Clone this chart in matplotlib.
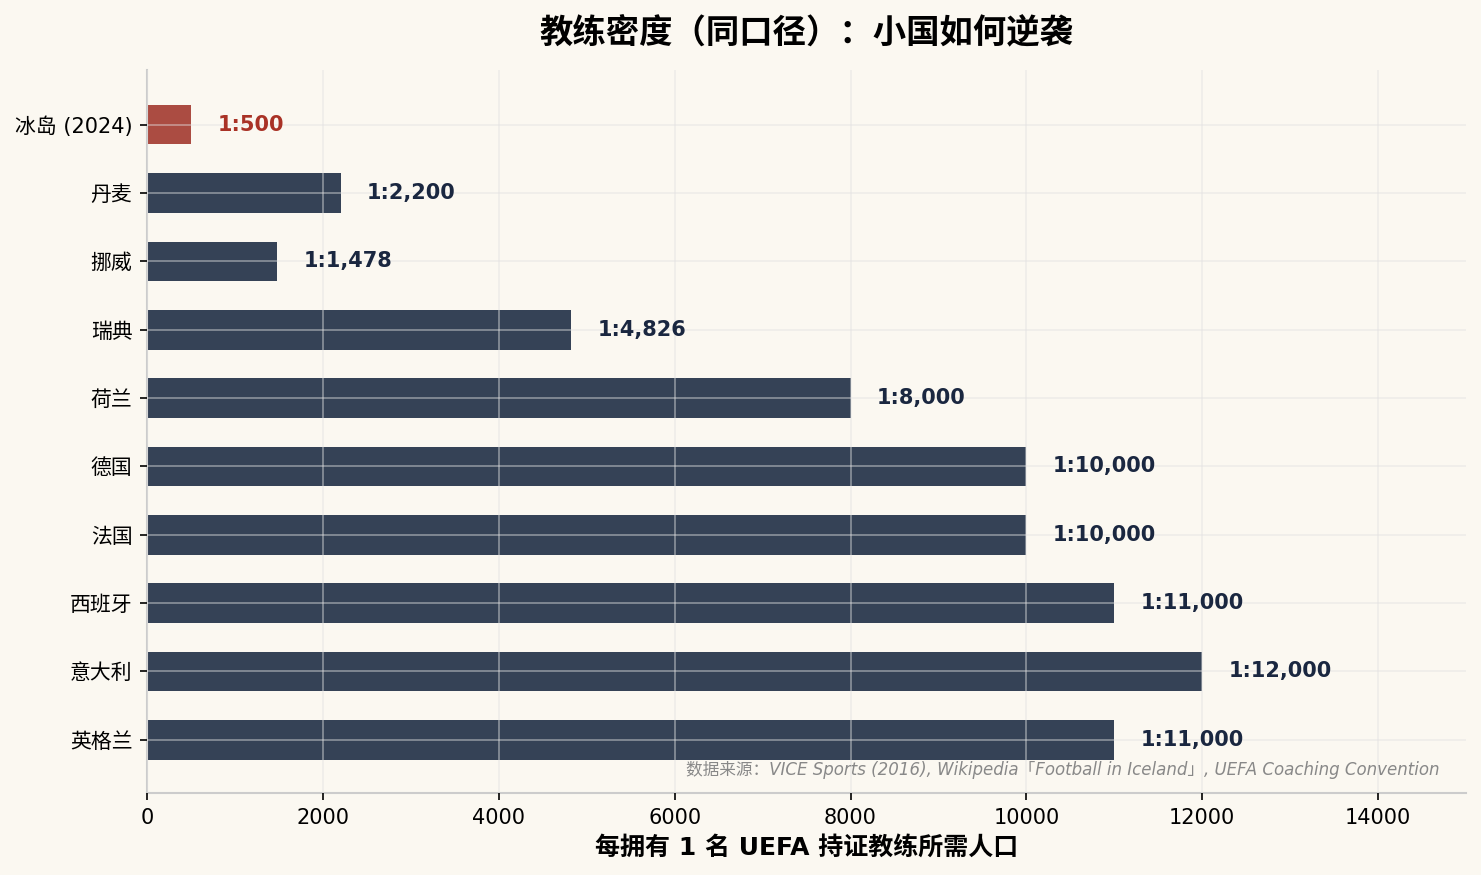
import matplotlib
matplotlib.use("Agg")
import matplotlib.pyplot as plt

plt.rcParams['font.family'] = ['DejaVu Sans', 'Noto Sans CJK SC']
plt.rcParams['axes.unicode_minus'] = False

countries = ['冰岛 (2024)', '丹麦', '挪威', '瑞典', '荷兰',
             '德国', '法国', '西班牙', '意大利', '英格兰']
people_per_coach = [500, 2200, 1478, 4826, 8000,
                    10000, 10000, 11000, 12000, 11000]
highlight = '冰岛 (2024)'

bg = '#FBF8F1'
fig = plt.figure(figsize=(1481 / 150, 875 / 150), dpi=150, facecolor=bg)
ax = fig.add_axes([0.0993, 0.0937, 0.8906, 0.8263], facecolor=bg)

n = len(countries)
ypos = [n - 1 - i for i in range(n)]
bar_colors = ['#AB4C42' if c == highlight else '#354256' for c in countries]
ax.barh(ypos, people_per_coach, height=0.58, color=bar_colors)

for y, v, c in zip(ypos, people_per_coach, countries):
    ax.text(v + 300, y, f'1:{v:,}', va='center', ha='left',
            fontsize=10, fontweight='bold',
            color='#A93226' if c == highlight else '#1A2740')

ax.set_yticks(ypos)
ax.set_yticklabels(countries, fontsize=10)
ax.set_xlim(0, 15000)
ax.set_ylim(-0.78, n - 1 + 0.8)
ax.tick_params(axis='x', labelsize=10)

ax.set_axisbelow(False)
ax.grid(True, color='#E2E2E2', alpha=0.5, linewidth=0.8)

for s in ['top', 'right']:
    ax.spines[s].set_visible(False)
for s in ['left', 'bottom']:
    ax.spines[s].set_color('#CCCCCC')
    ax.spines[s].set_linewidth(1.0)

ax.set_xlabel('每拥有 1 名 UEFA 持证教练所需人口', fontsize=12, fontweight='bold')
ax.set_title('教练密度（同口径）：小国如何逆袭', fontsize=16, fontweight='bold', pad=13)

ax.text(0.98, 0.02,
        '数据来源：VICE Sports (2016), Wikipedia「Football in Iceland」, UEFA Coaching Convention',
        transform=ax.transAxes, ha='right', va='bottom', fontsize=8,
        style='italic', color='#888888')

fig.savefig('out.png', dpi=150, facecolor=bg)
